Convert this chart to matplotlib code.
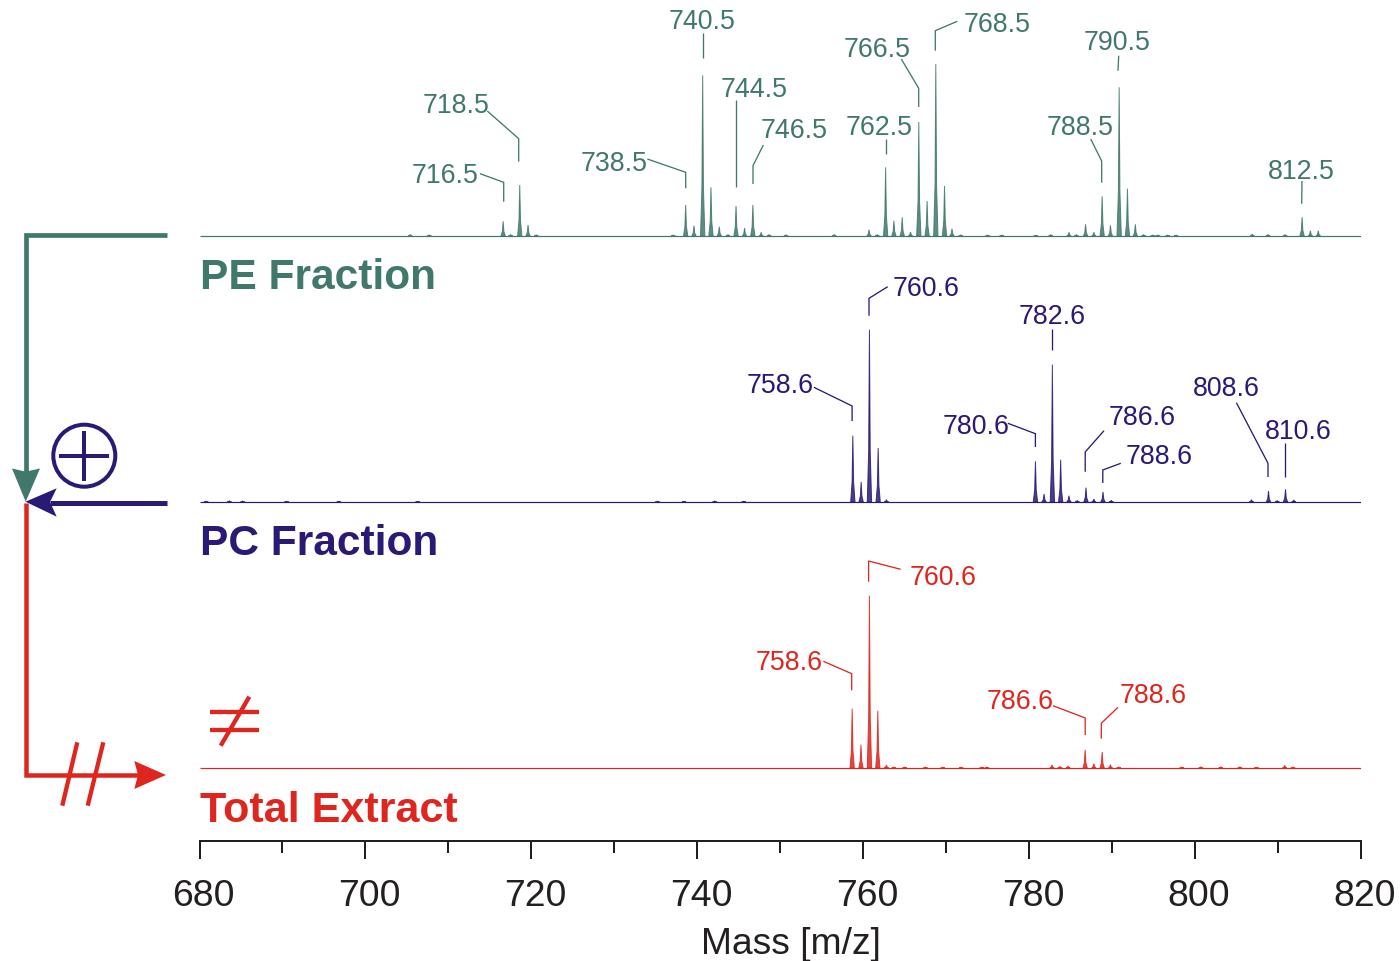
import matplotlib
matplotlib.use("Agg")
import matplotlib.pyplot as plt
from matplotlib.patches import Circle, Polygon
from matplotlib.transforms import ScaledTranslation

plt.rcParams['font.family'] = ['Liberation Sans', 'DejaVu Sans']

# peaks, intensity in arbitrary units
pe_mz = [705.4, 707.7, 716.6, 717.5, 718.6, 719.6, 720.6, 737.1, 738.6, 739.6, 740.65, 741.65, 742.65, 743.7,
         744.67, 745.7, 746.7, 747.7, 748.65, 750.7, 756.5, 760.7, 761.7, 762.7, 763.7, 764.7, 765.7, 766.7,
         767.7, 768.75, 769.8, 770.7, 771.75, 775.0, 776.7, 780.8, 782.6, 784.8, 785.7, 786.8, 787.8, 788.8,
         789.8, 790.85, 791.85, 792.8, 793.8, 794.9, 795.5, 796.7, 797.7, 806.9, 808.8, 810.85, 812.9, 813.9, 814.85]
pe_int = [1.5, 1.2, 14.7, 1.5, 51, 11, 1.2, 1, 31, 10.3, 160.7, 48.7, 9.3, 1.5,
          30, 8, 31, 3.7, 1.5, 1.2, 1.5, 6.3, 1.5, 68.7, 15.3, 18.7, 4, 114,
          35, 172, 50, 7.3, 1.2, 1, 1, 0.8, 1.5, 3.7, 1.5, 11.7, 3.7, 39.7,
          10.7, 148.7, 47.3, 11.7, 1.5, 1, 1, 1, 1, 2, 1.5, 1.5, 18.7, 5.3, 5.3]

pc_mz = [680.8, 683.6, 685.2, 690.5, 696.8, 706.3, 735.2, 738.4, 742.1, 745.6, 758.75, 759.75, 760.75, 761.8, 762.8,
         780.76, 781.8, 782.8, 783.8, 784.8, 785.8, 786.85, 787.8, 788.9, 789.9, 806.8, 808.85, 809.9, 810.9, 811.9]
pc_int = [0.8, 1.2, 1, 0.8, 0.8, 0.7, 0.8, 0.8, 1, 0.8, 66.3, 20, 172.3, 54, 2.3,
          40.7, 8, 137.3, 42.3, 6.3, 1.5, 14.3, 3, 10, 1.7, 2.3, 11, 1.5, 12.7, 2]

te_mz = [758.67, 759.73, 760.75, 761.76, 762.8, 763.7, 765, 767.5, 769.6, 771.8, 774.3, 774.9, 782.75, 783.7, 784.7,
         786.75, 787.8, 788.8, 789.8, 790.8, 798.4, 800.7, 803.1, 805.4, 807.4, 810.8, 811.8]
te_int = [59.3, 23.3, 172.3, 57.3, 3, 1, 1, 1, 1, 1, 1, 1, 3, 1.5, 2,
          18.3, 4.3, 16, 3.3, 1, 1, 1.2, 1.2, 1.2, 0.8, 2.7, 1]

pe_labels = ['716.5', '718.5', '738.5', '740.5', '744.5', '746.5', '762.5', '766.5', '768.5', '788.5', '790.5', '812.5']
pc_labels = ['758.6', '760.6', '780.6', '782.6', '786.6', '788.6', '808.6', '810.6']
te_labels = ['758.6', '760.6', '786.6', '788.6']

major_ticks = [680, 700, 720, 740, 760, 780, 800, 820]
minor_ticks = [690, 710, 730, 750, 770, 790, 810]

TEAL = '#41786C'
NAVY = '#291A75'
RED = '#DE261E'
BLACK = '#231F20'

# layout, everything in pixels of the 1400x961 picture
W, H = 1400, 961
AX_L, AX_R, AX_B = 199.5, 1361, 841
px = 0.72  # pixel -> point at dpi 100

pe_base, pc_base, te_base = 236, 502, 768

# label centre x, baseline y
pe_pos = [(445, 182.7), (456.5, 113), (614, 171), (702, 29.3), (753.7, 97), (794, 138),
          (879, 135), (877, 57), (997.5, 32), (1080, 135), (1117, 50), (1301.5, 179)]
pc_pos = [(780.5, 393.3), (925.6, 296), (976.3, 434), (1052, 324),
          (1142, 425), (1159, 464.3), (1226, 395.7), (1298.4, 439.3)]
te_pos = [(789, 670), (943, 585), (1020.5, 709), (1153.3, 702.7)]

pe_lead = [[(480, 173.7), (503.7, 182.3), (503.7, 201.7)],
           [(487.3, 111), (518.7, 138.7), (518.7, 161.7)],
           [(647.3, 159), (685.7, 172.3), (685.7, 188.3)],
           [(702.7, 32.7), (702.7, 57.7)],
           [(736, 100), (736, 186.7)],
           [(763.3, 145), (753, 165.7), (753, 184)],
           [(885.7, 139), (885.7, 153.7)],
           [(901.3, 59), (918.7, 88.3), (918.7, 107)],
           [(957.3, 21.3), (935.3, 30.7), (935.3, 50.7)],
           [(1090.7, 139), (1101.7, 161), (1101.7, 182.7)],
           [(1118.7, 55.7), (1118, 70.7)],
           [(1302, 181), (1301.7, 203.7)]]
pc_lead = [[(813.9, 387.3), (852.1, 406), (852.1, 421)],
           [(887.7, 286.7), (869, 298.3), (869, 315.7)],
           [(1007.9, 423.3), (1035.4, 433.7), (1035.4, 447)],
           [(1051.9, 329), (1051.9, 350)],
           [(1104, 430.7), (1085.2, 452), (1085.2, 471.7)],
           [(1120.8, 463.3), (1102.8, 470), (1102.8, 483)],
           [(1236.4, 402.7), (1268, 463.3), (1268, 477)],
           [(1285, 442.7), (1285, 476.7)]]
te_lead = [[(823.4, 661.3), (851.7, 673.7), (851.7, 690.3)],
           [(900.7, 569.3), (868.6, 561), (868.6, 581.7)],
           [(1053, 705.7), (1085.2, 718), (1085.2, 735)],
           [(1118, 707.3), (1101.3, 723.3), (1101.3, 738.7)]]

fig = plt.figure(figsize=(W / 100, H / 100), dpi=100)

# spectra share one axes, stacked by baseline offset
ax = fig.add_axes([AX_L / W, 1 - AX_B / H, (AX_R - AX_L) / W, AX_B / H])
ax.set_xlim(680, 820)
ax.set_ylim(AX_B, 0)
ax.patch.set_alpha(0)
for s in ['top', 'left', 'right']:
    ax.spines[s].set_visible(False)
ax.spines['bottom'].set_linewidth(2 * px)
ax.spines['bottom'].set_color(BLACK)
ax.set_yticks([])
ax.set_xticks(major_ticks)
ax.set_xticks(minor_ticks, minor=True)
ax.tick_params(axis='x', which='major', length=18 * px, width=2 * px, color=BLACK,
               labelsize=26.9, labelcolor=BLACK, pad=14.5)
ax.tick_params(axis='x', which='minor', length=12 * px, width=2 * px, color=BLACK)
shift = ScaledTranslation(4 / 100, 0, fig.dpi_scale_trans)
for t in ax.get_xticklabels():
    t.set_transform(t.get_transform() + shift)

ax.set_xlabel('Mass [m/z]', fontsize=26.8, color=BLACK, va='baseline')
ax.xaxis.set_label_coords((790.5 - AX_L) / (AX_R - AX_L), (AX_B - 954) / AX_B)


def draw_spectrum(mz, inten, base, col):
    ax.plot([680, 820], [base, base], color=col, lw=1.2 * px, solid_capstyle='butt')
    w = 0.26  # half width of a peak at its foot
    for m, h in zip(mz, inten):
        xs = [m - w, m - 0.35 * w, m, m + 0.35 * w, m + w]
        ys = [base, base - 0.3 * h, base - h, base - 0.3 * h, base]
        ax.fill(xs, ys, color=col, lw=1.0 * px, joinstyle='miter', alpha=0.85)


draw_spectrum(pe_mz, pe_int, pe_base, TEAL)
draw_spectrum(pc_mz, pc_int, pc_base, NAVY)
draw_spectrum(te_mz, te_int, te_base, RED)

# overlay in picture pixels for labels, leaders and the flow arrows
ov = fig.add_axes([0, 0, 1, 1])
ov.set_xlim(0, W)
ov.set_ylim(H, 0)
ov.axis('off')


def peak_labels(labels, pos, leads, col):
    for lab, (x, y), lead in zip(labels, pos, leads):
        ov.text(x, y, lab, color=col, fontsize=19.3, ha='center', va='baseline')
        ov.plot([p[0] for p in lead], [p[1] for p in lead], color=col, lw=1.3 * px,
                solid_joinstyle='miter', solid_capstyle='butt')


peak_labels(pe_labels, pe_pos, pe_lead, TEAL)
peak_labels(pc_labels, pc_pos, pc_lead, NAVY)
peak_labels(te_labels, te_pos, te_lead, RED)

ov.text(199.5, 289, 'PE Fraction', color=TEAL, fontsize=30.6, fontweight='bold', va='baseline')
ov.text(199.5, 555, 'PC Fraction', color=NAVY, fontsize=30.6, fontweight='bold', va='baseline')
ov.text(199.5, 822, 'Total Extract', color=RED, fontsize=31.1, fontweight='bold', va='baseline')


def stroke(xs, ys, col, w):
    ov.plot(xs, ys, color=col, lw=w * px, solid_joinstyle='miter', solid_capstyle='butt')


# red path first, the other heads sit on top of it
stroke([25.7, 25.7, 138], [503, 775, 775], RED, 4.5)
ov.add_patch(Polygon([(166, 775), (134.3, 761), (138, 775), (134.3, 789)], color=RED, lw=0))
stroke([77.3, 62.3], [742.3, 805.7], RED, 4.3)
stroke([103.3, 87.7], [742.3, 805.7], RED, 4.3)

stroke([167, 25.7, 25.7], [235, 235, 475], TEAL, 4.7)
ov.add_patch(Polygon([(25.7, 501.7), (12, 468.5), (25.7, 471.7), (40, 468.5)], color=TEAL, lw=0))

stroke([167, 50], [502.5, 502.5], NAVY, 5)
ov.add_patch(Polygon([(25.5, 501.7), (56.7, 488.3), (50, 502), (56.7, 516.7)], color=NAVY, lw=0))

# circled plus
ov.add_patch(Circle((84.3, 455.7), 31, fill=False, ec=NAVY, lw=4 * px))
stroke([59.3, 109.3], [455.7, 455.7], NAVY, 4)
stroke([84.3, 84.3], [431, 480.7], NAVY, 4)

# not equal sign
stroke([210, 259.3], [712.3, 712.3], RED, 4.3)
stroke([210, 259.3], [730.3, 730.3], RED, 4.3)
stroke([249.3, 220.7], [696.7, 745.7], RED, 4.3)

fig.savefig('out.png', dpi=100)
